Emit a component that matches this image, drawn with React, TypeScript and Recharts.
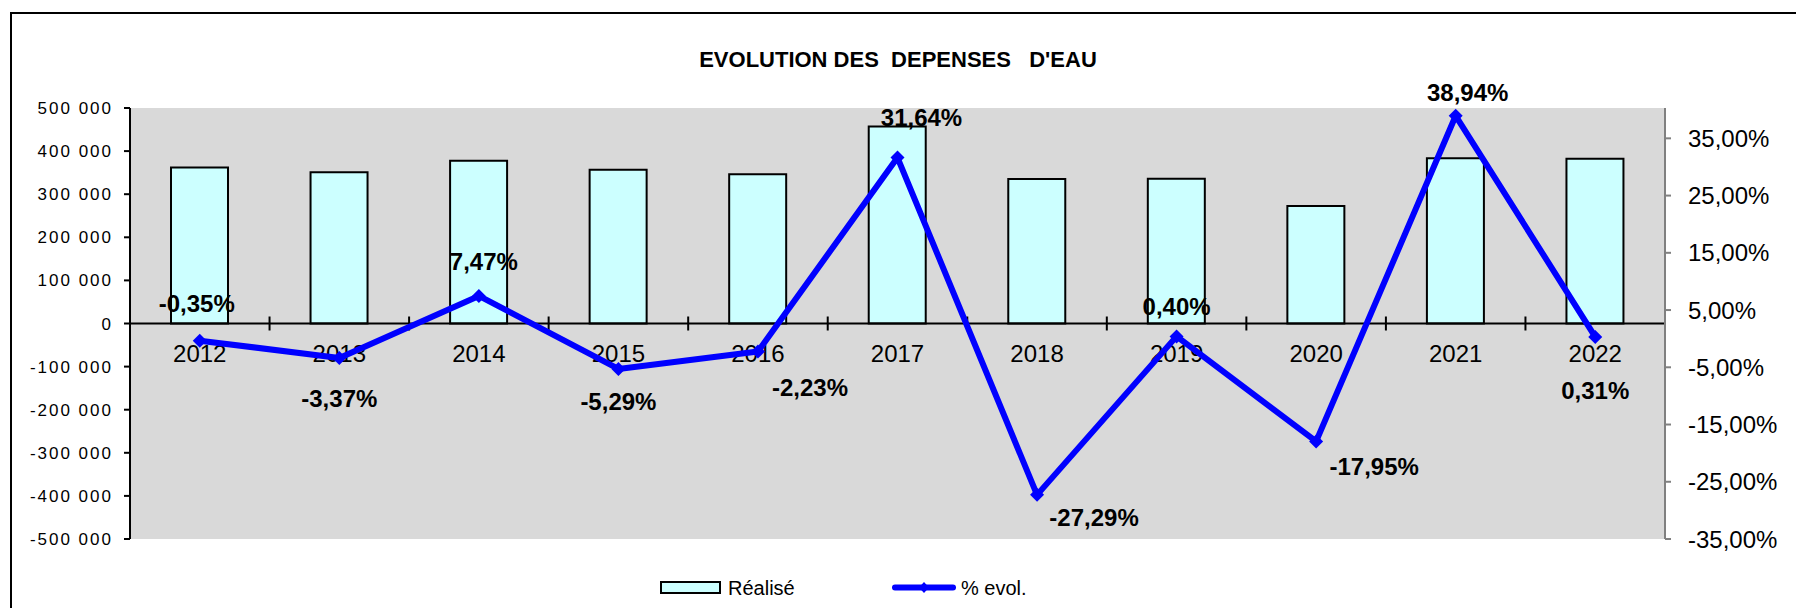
import { ComposedChart, Bar, Line, XAxis, YAxis, CartesianGrid, ReferenceLine, LabelList } from 'recharts';

const YEARS = ['2012', '2013', '2014', '2015', '2016', '2017', '2018', '2019', '2020', '2021', '2022'];
const REALISE = [362000, 351000, 377500, 356500, 346500, 457000, 335500, 336000, 272500, 383500, 382500];
const EVOL = [-0.35, -3.37, 7.47, -5.29, -2.23, 31.64, -27.29, 0.4, -17.95, 38.94, 0.31];
const LEFT_TICKS = [-500000, -400000, -300000, -200000, -100000, 0, 100000, 200000, 300000, 400000, 500000];
const RIGHT_TICKS = [-35, -25, -15, -5, 5, 15, 25, 35];

// where each % label sits relative to its point (px), hand placed like in the sheet
const LABEL_OFFSETS: [number, number][] = [
  [-3, -37], [0, 40], [5, -35], [0, 32], [52, 36], [24, -40],
  [57, 23], [0, -30], [58, 25], [12, -23], [0, 54],
];

const FONT = '"Liberation Sans", Arial, sans-serif';
const BLUE = '#0000FF';
const CYAN = '#CCFFFF';

const data = YEARS.map((year, i) => ({ year, realise: REALISE[i], evol: EVOL[i] }));

const fmtLeft = (v: number) => (v === 0 ? '0' : `${v < 0 ? '-' : ''}${Math.abs(v) / 1000} 000`);
const fmtPct = (v: number) => `${v.toFixed(2).replace('.', ',')}%`;

const Diamond = ({ cx, cy }: any) => {
  if (cx == null || cy == null) return null;
  const r = 7;
  return <polygon points={`${cx},${cy - r} ${cx + r},${cy} ${cx},${cy + r} ${cx - r},${cy}`} fill={BLUE} />;
};

const EvolLabel = ({ x, y, value, index }: any) => {
  const [dx, dy] = LABEL_OFFSETS[index] ?? [0, -30];
  return (
    <text x={x + dx} y={y + dy + 8.6} textAnchor="middle" fontFamily={FONT} fontSize={24} fontWeight="bold" fill="#000">
      {fmtPct(value)}
    </text>
  );
};

// category labels + boundary ticks drawn on the zero line
const CategoryAxis = (props: any) => {
  const vb = props.viewBox;
  if (!vb) return null;
  const band = vb.width / YEARS.length;
  return (
    <g>
      {YEARS.slice(1).map((_, i) => {
        const tx = vb.x + (i + 1) * band;
        return <line key={`t${i}`} x1={tx} x2={tx} y1={vb.y - 7} y2={vb.y + 7} stroke="#000" strokeWidth={2} />;
      })}
      {YEARS.map((yr, i) => (
        <text key={yr} x={vb.x + (i + 0.5) * band} y={vb.y + 38} textAnchor="middle" fontFamily={FONT} fontSize={24} fill="#000">
          {yr}
        </text>
      ))}
    </g>
  );
};

export default function App() {
  return (
    <div style={{ position: 'absolute', left: 0, top: 0, width: 1796, height: 608, overflow: 'hidden', background: '#fff', fontFamily: FONT }}>
      <div style={{ position: 'absolute', left: 10, top: 12, width: 1820, height: 640, border: '2px solid #000' }} />
      <div
        style={{
          position: 'absolute', left: 0, top: 49, width: 1796, textAlign: 'center',
          fontSize: 22, lineHeight: '22px', fontWeight: 'bold', whiteSpace: 'pre', color: '#000',
        }}
      >
        {"EVOLUTION DES  DEPENSES   D'EAU"}
      </div>
      <div style={{ position: 'absolute', left: 0, top: 0 }}>
        <ComposedChart width={1796} height={608} data={data} margin={{ top: 108, right: 10, bottom: 69, left: 10 }}>
          <CartesianGrid fill="#D9D9D9" horizontal={false} vertical={false} />
          <XAxis dataKey="year" hide />
          <YAxis
            yAxisId="left"
            orientation="left"
            width={120}
            domain={[-500000, 500000]}
            ticks={LEFT_TICKS}
            interval={0}
            tickFormatter={fmtLeft}
            axisLine={{ stroke: '#000', strokeWidth: 2 }}
            tickLine={{ stroke: '#000', strokeWidth: 2 }}
            tickSize={6}
            tickMargin={11}
            tick={{ fontSize: 17, fill: '#000', fontFamily: FONT, letterSpacing: 2 }}
          />
          <YAxis
            yAxisId="right"
            orientation="right"
            width={121}
            domain={[-35, 40.3]}
            ticks={RIGHT_TICKS}
            interval={0}
            tickFormatter={fmtPct}
            axisLine={{ stroke: '#808080', strokeWidth: 2 }}
            tickLine={{ stroke: '#808080', strokeWidth: 2 }}
            tickSize={6}
            tickMargin={17}
            tick={{ fontSize: 24, fill: '#000', fontFamily: FONT }}
            allowDataOverflow
          />
          <ReferenceLine yAxisId="left" y={0} stroke="#000" strokeWidth={2} label={(p: any) => <CategoryAxis {...p} />} />
          <Bar yAxisId="left" dataKey="realise" name="Réalisé" fill={CYAN} stroke="#000" strokeWidth={2} barSize={57} isAnimationActive={false} />
          <Line
            yAxisId="right"
            type="linear"
            dataKey="evol"
            name="% evol."
            stroke={BLUE}
            strokeWidth={6}
            strokeLinejoin="round"
            dot={<Diamond />}
            activeDot={false}
            isAnimationActive={false}
          >
            <LabelList dataKey="evol" content={<EvolLabel />} />
          </Line>
        </ComposedChart>
      </div>
      <svg width={1796} height={608} style={{ position: 'absolute', left: 0, top: 0, pointerEvents: 'none' }}>
        <rect x={661} y={582} width={59} height={11} fill={CYAN} stroke="#000" strokeWidth={2} />
        <text x={728} y={594.5} fontFamily={FONT} fontSize={20} fill="#000">Réalisé</text>
        <line x1={895} x2={953} y1={587.5} y2={587.5} stroke={BLUE} strokeWidth={6} strokeLinecap="round" />
        <polygon points="924,582 929,587.5 924,593 919,587.5" fill={BLUE} />
        <text x={961} y={594.5} fontFamily={FONT} fontSize={20} fill="#000">% evol.</text>
      </svg>
    </div>
  );
}
